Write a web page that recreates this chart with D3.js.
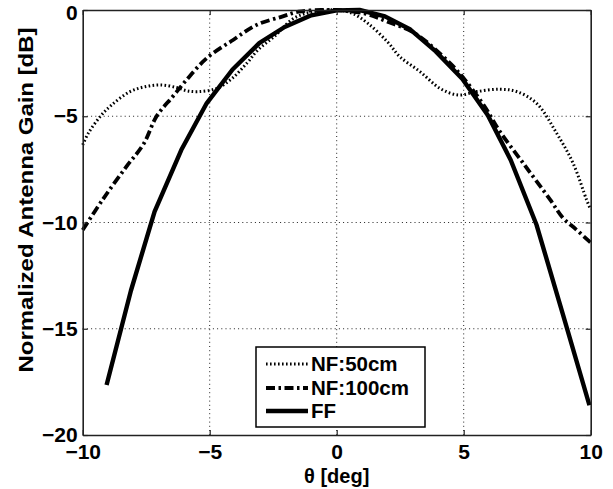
<!DOCTYPE html>
<html>
<head>
<meta charset="utf-8">
<script src="https://cdn.jsdelivr.net/npm/d3@7"></script>
<style>
html,body{margin:0;padding:0;background:#fff;}
svg{display:block;}
text{font-family:"Liberation Sans",Arial,Helvetica,sans-serif;font-weight:bold;fill:#000;}
</style>
</head>
<body>
<svg id="chart" width="613" height="489"></svg>
<script>
// ---- data ----
const xTicks = [-10, -5, 0, 5, 10];
const yTicks = [0, -5, -10, -15, -20];
const seriesNames = ["NF:50cm", "NF:100cm", "FF"];

const nf50Theta = [-10, -9.78, -9.3, -8.86, -8.14, -7.5, -6.89, -6.3, -5.9, -5.45, -4.72, -4.1, -3.54, -3.1, -2.46, -1.7, -0.92, 0, 0.62, 1.23, 2, 2.49, 3.28, 4.07, 4.79, 5.51, 6.43, 7.09, 7.87, 8.66, 9.31, 9.84, 10];
const nf50Gain  = [-6.35, -5.8, -5.0, -4.47, -3.84, -3.6, -3.53, -3.65, -3.8, -3.84, -3.69, -3.2, -2.51, -1.88, -1.25, -0.4, -0.08, 0, -0.16, -0.63, -1.5, -2.2, -2.9, -3.69, -4.0, -3.84, -3.73, -3.84, -4.39, -5.8, -7.22, -8.94, -9.4];

const nf100Theta = [-10, -9.2, -8.28, -7.6, -7.09, -6.46, -5.97, -5.12, -4.08, -3.15, -2.15, -1.5, -0.6, 0, 1.08, 2, 3.08, 4.46, 5.05, 5.8, 6.43, 7.35, 8.41, 8.92, 9.4, 10];
const nf100Gain  = [-10.35, -8.9, -7.37, -6.3, -5.0, -4.08, -3.37, -2.27, -1.41, -0.7, -0.31, -0.08, 0, 0, -0.16, -0.55, -1.1, -2.5, -3.29, -4.5, -5.73, -7.22, -8.94, -9.8, -10.3, -10.95];

const ffTheta = [-9.06, -8.1, -7.17, -6.12, -5.12, -4.1, -3.05, -2.05, -1.0, 0, 0.9, 1.9, 2.9, 3.9, 4.95, 5.95, 6.85, 7.87, 8.9, 9.95];
const ffGain  = [-17.65, -13.2, -9.49, -6.59, -4.39, -2.8, -1.56, -0.8, -0.25, -0.02, 0, -0.3, -0.92, -1.95, -3.25, -4.95, -7.06, -10.12, -14.3, -18.6];

// ---- layout ----
const svg = d3.select("#chart");
const L = 82.7, R = 590.7, T = 10, B = 435;
const x = d3.scaleLinear().domain([-10, 10]).range([L, R]);
const y = d3.scaleLinear().domain([-20, 0]).range([B, T]);

// grid
const grid = svg.append("g").attr("stroke", "#222").attr("stroke-width", 1).attr("stroke-dasharray", "1,3.2");
grid.selectAll("line.gx").data(xTicks.slice(1, -1)).join("line")
  .attr("x1", d => x(d)).attr("x2", d => x(d)).attr("y1", T).attr("y2", B);
grid.selectAll("line.gy").data(yTicks.slice(1, -1)).join("line")
  .attr("y1", d => y(d)).attr("y2", d => y(d)).attr("x1", L).attr("x2", R);

// curves
function series(th, g) { return th.map((t, i) => [t, g[i]]); }
const smooth = d3.line().x(d => x(d[0])).y(d => y(d[1])).curve(d3.curveCatmullRom.alpha(0.5));
const straight = d3.line().x(d => x(d[0])).y(d => y(d[1]));

const styles = [
  {w: 3, dash: "1.6,2.4"},
  {w: 3.8, dash: "9,3.5,2.5,3.5"},
  {w: 4.4, dash: null}
];

svg.append("path").datum(series(nf50Theta, nf50Gain)).attr("d", smooth)
  .attr("fill", "none").attr("stroke", "#000").attr("stroke-width", styles[0].w).attr("stroke-dasharray", styles[0].dash);
svg.append("path").datum(series(nf100Theta, nf100Gain)).attr("d", smooth)
  .attr("fill", "none").attr("stroke", "#000").attr("stroke-width", styles[1].w).attr("stroke-dasharray", styles[1].dash);
svg.append("path").datum(series(ffTheta, ffGain)).attr("d", straight)
  .attr("fill", "none").attr("stroke", "#000").attr("stroke-width", styles[2].w).attr("stroke-linejoin", "round");

// axes
const fmt = d3.format("d");
const axB = svg.append("g").attr("transform", `translate(0,${B})`)
  .call(d3.axisBottom(x).tickValues(xTicks).tickFormat(fmt).tickSizeInner(-5).tickSizeOuter(0).tickPadding(9));
const axT = svg.append("g").attr("transform", `translate(0,${T})`)
  .call(d3.axisTop(x).tickValues(xTicks).tickFormat("").tickSizeInner(-5).tickSizeOuter(0));
const axL = svg.append("g").attr("transform", `translate(${L},0)`)
  .call(d3.axisLeft(y).tickValues(yTicks).tickFormat(fmt).tickSizeInner(-5).tickSizeOuter(0).tickPadding(5));
const axR = svg.append("g").attr("transform", `translate(${R},0)`)
  .call(d3.axisRight(y).tickValues(yTicks).tickFormat("").tickSizeInner(-5).tickSizeOuter(0));
[axB, axT, axL, axR].forEach(a => {
  a.select(".domain").attr("stroke", "#222").attr("stroke-width", 1.6);
  a.selectAll(".tick line").attr("stroke", "#222").attr("stroke-width", 1.2);
  a.selectAll("text").attr("font-size", 21).attr("font-family", "Liberation Sans, Arial, sans-serif").attr("font-weight", "bold").attr("fill", "#000");
});
// keep the top "0" label fully inside the picture
axL.selectAll(".tick text").filter(d => d === 0).attr("y", 3);

// axis labels
svg.append("text").attr("x", (L + R) / 2).attr("y", 483).attr("text-anchor", "middle")
  .attr("font-size", 20).text("θ [deg]");
svg.append("text").attr("transform", "translate(33,200) rotate(-90)").attr("text-anchor", "middle")
  .attr("font-size", 21).attr("textLength", 345).attr("lengthAdjust", "spacingAndGlyphs")
  .text("Normalized Antenna Gain [dB]");

// legend
const lg = svg.append("g");
lg.append("rect").attr("x", 256).attr("y", 347).attr("width", 169).attr("height", 80)
  .attr("fill", "#fff").attr("stroke", "#000").attr("stroke-width", 1.5);
const ly = [364, 388, 411];
seriesNames.forEach((n, i) => {
  lg.append("line").attr("x1", 266).attr("x2", 308).attr("y1", ly[i]).attr("y2", ly[i])
    .attr("stroke", "#000").attr("stroke-width", styles[i].w).attr("stroke-dasharray", styles[i].dash);
  lg.append("text").attr("x", 311).attr("y", ly[i] + 7).attr("font-size", 20.5).text(n);
});
</script>
</body>
</html>
